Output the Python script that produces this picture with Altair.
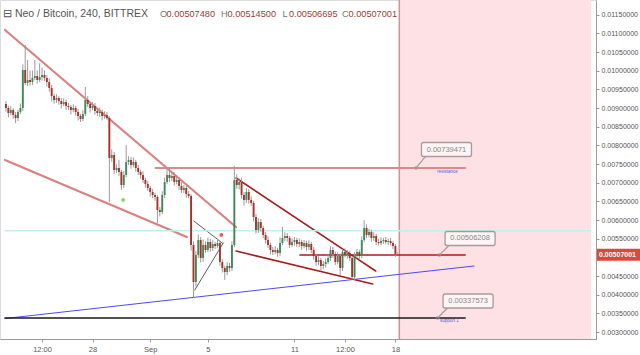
import altair as alt
import pandas as pd

# ---------------- candle data: 4h candles, time in days relative to 1 Sep ----------------
first_day = -10.0
candle_step = 1 / 6
first_open = 0.00911
closes = [
    0.009003, 0.008869, 0.008950, 0.008816, 0.008735, 0.008896, 0.009003, 0.010022, 0.009673, 0.009754,
    0.009700, 0.009807, 0.009861, 0.009754, 0.009834, 0.009888, 0.009807, 0.009700, 0.009539, 0.009325,
    0.009218, 0.009271, 0.009191, 0.009110, 0.009164, 0.009057, 0.009030, 0.008950, 0.009003, 0.008896,
    0.008789, 0.008708, 0.008842, 0.009218, 0.009110, 0.009003, 0.009057, 0.008923, 0.008869, 0.008896,
    0.008789, 0.008816, 0.008735, 0.007663, 0.007744, 0.007342, 0.007395, 0.007288, 0.006940, 0.007208,
    0.007556, 0.007610, 0.007476, 0.007556, 0.007395, 0.007288, 0.007208, 0.007074, 0.006966, 0.006859,
    0.006752, 0.006672, 0.006618, 0.006270, 0.006216, 0.006672, 0.007020, 0.007208, 0.007127, 0.007181,
    0.007020, 0.007074, 0.006913, 0.006806, 0.006859, 0.006698, 0.006645, 0.005332, 0.004340, 0.005064,
    0.005466, 0.004983, 0.005332, 0.005198, 0.005412, 0.005251, 0.005358, 0.005305, 0.005385, 0.004876,
    0.004715, 0.004608, 0.004769, 0.004715, 0.005332, 0.007074, 0.006940, 0.007020, 0.006672, 0.006538,
    0.006752, 0.006538, 0.006457, 0.006082, 0.005734, 0.005948, 0.005787, 0.005600, 0.005466, 0.005332,
    0.005198, 0.005144, 0.005198, 0.005117, 0.005385, 0.005519, 0.005573, 0.005519, 0.005332, 0.005412,
    0.005466, 0.005358, 0.005412, 0.005305, 0.005385, 0.005278, 0.005358, 0.005198, 0.005037, 0.004876,
    0.004930, 0.004769, 0.004822, 0.004876, 0.004983, 0.005198, 0.005090, 0.004876, 0.005037, 0.004715,
    0.005144, 0.005064, 0.005117, 0.004983, 0.004474, 0.005037, 0.005144, 0.005037, 0.005466, 0.005787,
    0.005600, 0.005680, 0.005519, 0.005573, 0.005412, 0.005385, 0.005439, 0.005466, 0.005412, 0.005439,
    0.005385, 0.005305, 0.0050748, 0.00507001,
]
# wick lengths beyond the body, in units of 0.00001 BTC
wick_up_e5 = [
    8, 6, 10, 5, 8, 6, 12, 15, 67, 54,
    25, 20, 43, 15, 37, 20, 12, 8, 10, 8,
    6, 10, 6, 8, 10, 6, 8, 6, 10, 6,
    8, 6, 10, 35, 10, 6, 10, 8, 6, 12,
    6, 10, 8, 5, 15, 8, 10, 22, 6, 10,
    46, 10, 8, 12, 6, 8, 6, 10, 6, 8,
    6, 8, 6, 5, 8, 10, 12, 21, 21, 8,
    10, 8, 6, 10, 8, 6, 8, 5, 10, 10,
    15, 8, 15, 10, 12, 8, 10, 6, 10, 6,
    8, 6, 10, 8, 10, 38, 15, 10, 12, 8,
    10, 8, 10, 6, 8, 10, 8, 6, 8, 10,
    6, 8, 10, 6, 15, 30, 10, 8, 6, 10,
    8, 6, 10, 6, 8, 6, 10, 6, 8, 6,
    10, 6, 8, 10, 8, 10, 8, 6, 10, 6,
    8, 10, 8, 6, 5, 10, 8, 6, 10, 21,
    10, 8, 6, 10, 6, 8, 10, 6, 8, 6,
    8, 6, 5, 7,
]
wick_dn_e5 = [
    10, 12, 6, 10, 14, 8, 6, 8, 5, 8,
    10, 8, 6, 10, 6, 10, 8, 12, 10, 15,
    10, 8, 10, 12, 6, 10, 8, 12, 6, 10,
    12, 8, 6, 6, 8, 12, 6, 10, 8, 10,
    12, 8, 6, 118, 10, 10, 8, 10, 13, 8,
    6, 8, 10, 6, 10, 8, 10, 8, 10, 8,
    12, 8, 10, 35, 12, 6, 8, 6, 10, 8,
    10, 6, 10, 8, 8, 10, 6, 15, 43, 12,
    8, 12, 10, 8, 6, 10, 8, 8, 6, 10,
    12, 21, 8, 10, 8, 6, 10, 12, 10, 15,
    8, 10, 8, 12, 10, 8, 10, 8, 10, 8,
    12, 8, 6, 10, 8, 6, 8, 10, 8, 6,
    10, 8, 8, 10, 6, 10, 8, 8, 10, 10,
    8, 12, 8, 10, 6, 8, 10, 8, 6, 19,
    8, 6, 10, 8, 6, 8, 6, 10, 6, 6,
    8, 6, 10, 8, 8, 6, 6, 8, 6, 8,
    6, 8, 6, 0.3,
]

# ---------------- drawings (day offset, price) ----------------
line_names = ["wedge1_top", "wedge1_bottom", "resistance", "tri_top", "tri_bottom",
              "wedge2_top", "wedge2_bottom", "support_red", "blue_trend", "support_black",
              "cyan_level"]
line_t0 = [-10.068, -10.068, 0.361, 3.02, 3.088, 5.951, 5.951, 10.382, -10.068, -10.068, -10.068]
line_p0 = [0.011094, 0.007610, 0.00739471, 0.005975, 0.004126, 0.007127, 0.005171, 0.00506208,
           0.003362, 0.00337573, 0.005715]
line_t1 = [5.951, 2.543, 21.834, 4.997, 5.065, 15.631, 15.426, 21.834, 22.447, 21.834, 30.56]
line_p1 = [0.005814, 0.005546, 0.00739471, 0.005385, 0.005385, 0.004635, 0.004286, 0.00506208,
           0.004769, 0.00337573, 0.005715]

line_style = {
    "wedge1_top": ("#db8080", 2.2), "wedge1_bottom": ("#db8080", 2.2),
    "resistance": ("#d98a8a", 1.8), "tri_top": ("#333333", 0.8), "tri_bottom": ("#333333", 0.8),
    "wedge2_top": ("#a91d1d", 1.6), "wedge2_bottom": ("#a91d1d", 1.6),
    "support_red": ("#a91d1d", 1.6), "blue_trend": ("#4b4bf0", 1.0),
    "support_black": ("#1a1a1a", 1.6), "cyan_level": ("#c4eef3", 1.5),
}

dot_t = [-1.88, 4.928]
dot_p = [0.006538, 0.0056]
dot_colors = ["#7ed957", "#f05454"]

callout_text = ["0.00739471", "0.00506208", "0.00337573"]
callout_t = [20.539, 22.175, 22.038]
callout_p = [0.007891, 0.005506, 0.003831]
callout_anchor_t = [18.43, 20.041, 19.925]
callout_anchor_p = [0.00739471, 0.00506208, 0.00337573]
callout_tip_t = [19.112, 20.743, 20.607]
callout_tip_p = [0.007717, 0.005332, 0.003643]

tag_text = ["resistance", "support 1"]
tag_t = [20.607, 20.743]
tag_p = [0.007288, 0.003295]

future_start = 17.27
last_price = 0.00507001

xtick_vals = [-7.5, -4, 0, 4, 10, 13.5, 17]
xtick_labels = ["12:00", "28", "Sep", "5", "11", "12:00", "18"]
ytick_vals = [0.0030, 0.0035, 0.0040, 0.0045, 0.0055, 0.0060, 0.0065, 0.0070, 0.0075,
              0.0080, 0.0085, 0.0090, 0.0095, 0.0100, 0.0105, 0.0110, 0.0115]

header_title = "⊟ Neo / Bitcoin, 240, BITTREX"
header_keys = ["O", "H", "L", "C"]
header_vals = ["0.00507480", "0.00514500", "0.00506695", "0.00507001"]

# ---------------- build tables ----------------
rows = []
prev = first_open
for i, c in enumerate(closes):
    o = prev
    rows.append(dict(t=first_day + i * candle_step, open=o, close=c,
                     high=max(o, c) + wick_up_e5[i] * 1e-5,
                     low=min(o, c) - wick_dn_e5[i] * 1e-5,
                     up="up" if c >= o else "down"))
    prev = c
candles = pd.DataFrame(rows)

segs = pd.DataFrame(dict(name=line_names, t0=line_t0, p0=line_p0, t1=line_t1, p1=line_p1))
segs["color"] = [line_style[n][0] for n in line_names]
segs["w"] = [line_style[n][1] for n in line_names]

dots = pd.DataFrame(dict(t=dot_t, p=dot_p, color=dot_colors))
callouts = pd.DataFrame(dict(text=callout_text, t=callout_t, p=callout_p,
                             at=callout_anchor_t, ap=callout_anchor_p,
                             tt=callout_tip_t, tp=callout_tip_p))
tags = pd.DataFrame(dict(text=tag_text, t=tag_t, p=tag_p))

W, H = 596, 339
xs = alt.Scale(domain=[-10.068, 30.56], nice=False, zero=False)
ys = alt.Scale(domain=[0.0028124, 0.0118976], nice=False, zero=False)
FONT = "Liberation Sans"

label_expr = " : ".join(
    f"datum.value == {v} ? '{l}'" for v, l in zip(xtick_vals, xtick_labels)) + " : ''"

XA = alt.Axis(values=xtick_vals, labelExpr=label_expr, title=None, grid=False,
              domainColor="#9a9a9a", tickColor="#9a9a9a", tickSize=3,
              labelColor="#555555", labelFontSize=7.5, labelFont=FONT, labelPadding=3,
              labelFlush=False, labelOverlap=False)
YA = alt.Axis(values=ytick_vals, format=".8f", orient="right", title=None, grid=False,
              domainColor="#9a9a9a", tickColor="#9a9a9a", tickSize=3,
              labelColor="#555555", labelFontSize=7, labelFont=FONT, labelPadding=2,
              labelFlush=False, labelOverlap=False)


def X(f):
    return alt.X(f, scale=xs, axis=XA)


def Y(f):
    return alt.Y(f, scale=ys, axis=YA)


pink = alt.Chart(pd.DataFrame(dict(t0=[future_start], t1=[30.56]))).mark_rect(
    color="#fde1e4").encode(x=X("t0:Q"), x2="t1:Q", y=alt.value(0), y2=alt.value(H))
pink_edge = alt.Chart(pd.DataFrame(dict(t0=[future_start]))).mark_rule(
    color="#c9959a", strokeWidth=1.5).encode(x=X("t0:Q"), y=alt.value(0), y2=alt.value(H))

lines = alt.Chart(segs).mark_rule(strokeCap="round").encode(
    x=X("t0:Q"), y=Y("p0:Q"), x2="t1:Q", y2="p1:Q",
    color=alt.Color("color:N", scale=None), strokeWidth=alt.StrokeWidth("w:Q", scale=None))

wicks = alt.Chart(candles).mark_rule(color="#9a9a9a", strokeWidth=1).encode(
    x=X("t:Q"), y=Y("low:Q"), y2="high:Q")
bodies = alt.Chart(candles).mark_bar(size=1.9).encode(
    x=X("t:Q"), y=Y("open:Q"), y2="close:Q",
    color=alt.Color("up:N", scale=alt.Scale(domain=["up", "down"], range=["#3f8a5a", "#a8322a"]),
                    legend=None))

dot_layer = alt.Chart(dots).mark_circle(size=14, opacity=1).encode(
    x=X("t:Q"), y=Y("p:Q"), color=alt.Color("color:N", scale=None))

pointers = alt.Chart(callouts).mark_rule(color="#a89a9a", strokeWidth=1.2).encode(
    x=X("at:Q"), y=Y("ap:Q"), x2="tt:Q", y2="tp:Q")
anchors = alt.Chart(callouts).mark_point(size=10, color="#a89a9a", filled=False,
                                         strokeWidth=1).encode(x=X("at:Q"), y=Y("ap:Q"))
boxes = alt.Chart(callouts).mark_tick(orient="horizontal", size=50, thickness=14,
                                      color="#fdf4f5", stroke="#a89a9a", strokeWidth=1.3,
                                      cornerRadius=2, opacity=1).encode(x=X("t:Q"), y=Y("p:Q"))
box_text = alt.Chart(callouts).mark_text(font=FONT, fontSize=7.5, color="#8a8a8a").encode(
    x=X("t:Q"), y=Y("p:Q"), text="text:N")
tag_layer = alt.Chart(tags).mark_text(font=FONT, fontSize=4.5, color="#5a5ad8").encode(
    x=X("t:Q"), y=Y("p:Q"), text="text:N")

last_df = pd.DataFrame(dict(p=[last_price], text=[f"{last_price:.8f}"]))
last_box = alt.Chart(last_df).mark_tick(orient="horizontal", size=43, thickness=12,
                                        color="#e0463a", opacity=1, clip=False).encode(
    x=alt.value(618.5), y=Y("p:Q"))
last_txt = alt.Chart(last_df).mark_text(font=FONT, fontSize=7, color="white", align="left",
                                        fontWeight="bold").encode(
    x=alt.value(599), y=Y("p:Q"), text="text:N")

hdr = [alt.Chart(pd.DataFrame(dict(s=[header_title]))).mark_text(
    font=FONT, fontSize=10.5, color="#555555", align="left", baseline="alphabetic").encode(
    x=alt.value(3), y=alt.value(17), text="s:N")]
key_x = [160, 221, 282.5, 342]
for k, v, kx in zip(header_keys, header_vals, key_x):
    hdr.append(alt.Chart(pd.DataFrame(dict(s=[k]))).mark_text(
        font=FONT, fontSize=9.2, color="#777777", align="left", baseline="alphabetic").encode(
        x=alt.value(kx), y=alt.value(17), text="s:N"))
    hdr.append(alt.Chart(pd.DataFrame(dict(s=[v]))).mark_text(
        font=FONT, fontSize=9.2, color="#9b3b32", align="left", baseline="alphabetic").encode(
        x=alt.value(kx + 6.5), y=alt.value(17), text="s:N"))

chart = alt.layer(
    pink, pink_edge, lines, wicks, bodies, dot_layer, pointers, anchors, boxes, box_text,
    tag_layer, last_box, last_txt, *hdr
).properties(
    width=W, height=H,
    autosize=alt.AutoSizeParams(type="none"),
    padding={"left": 0, "top": 0, "right": 44, "bottom": 16},
).configure_view(stroke=None).configure(background="white")

chart.save("out.html", embed_options={"renderer": "svg", "actions": False})
